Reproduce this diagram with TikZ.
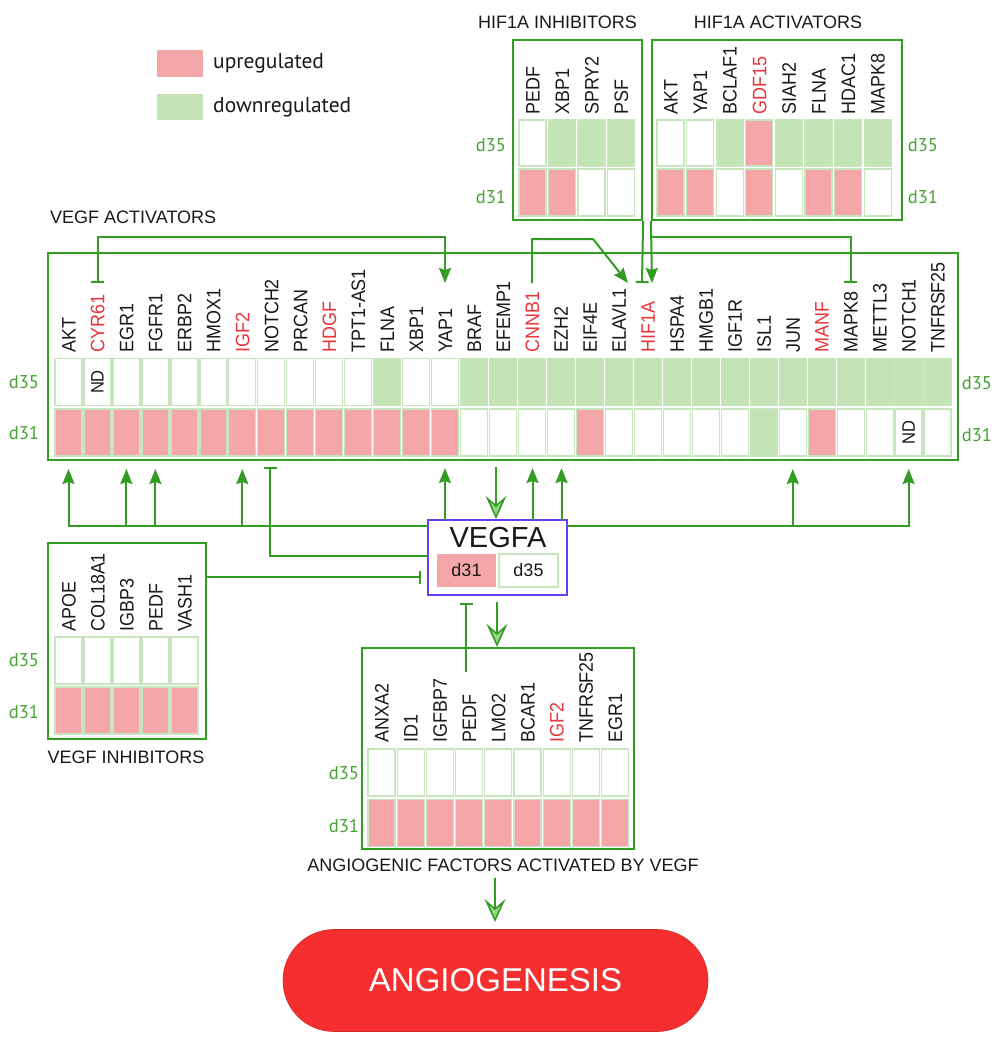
\documentclass[tikz,border=0pt]{standalone}
\usepackage{fontspec}
\setmainfont{Liberation Sans}
\newfontfamily\ptsans{PT Sans}
\newfontfamily\genefont[FakeStretch=0.92]{Liberation Sans}
\usetikzlibrary{arrows.meta,shapes.misc}
\definecolor{lg}{RGB}{52,155,36}
\definecolor{dg}{RGB}{70,160,50}
\definecolor{cellb}{RGB}{200,230,190}
\definecolor{cR}{RGB}{244,166,168}
\definecolor{cG}{RGB}{197,228,181}
\definecolor{cW}{RGB}{255,255,255}
\definecolor{gred}{RGB}{232,52,58}
\definecolor{angred}{RGB}{245,47,47}
\definecolor{vblue}{RGB}{105,60,240}
\definecolor{afill}{RGB}{150,215,135}
\definecolor{tx}{RGB}{25,25,25}
\tikzset{
  tact/.tip={Stealth[length=15pt,width=12pt,inset=2pt]},
  tbar/.tip={Bar[width=13pt]},
  tbig/.tip={Stealth[length=23pt,width=21pt,inset=9pt,fill=afill]},
}
\begin{document}
\begin{tikzpicture}[x=1pt,y=-1pt,
  genelab/.style={rotate=90, anchor=west, inner sep=0pt, font=\genefont\fontsize{19.5}{19.5}\selectfont, text height=14pt, text depth=0pt},
  cell/.style={draw=cellb, line width=1.3pt, minimum width=27pt, minimum height=47pt, inner sep=0pt},
  panel/.style={draw=lg, line width=2.2pt, inner sep=0pt},
  dlab/.style={text=dg, font=\ptsans\fontsize{18.5}{18.5}\selectfont, inner sep=0pt},
  conn/.style={draw=lg, line width=2pt},
  act/.style={conn, -tact},
  inh/.style={conn, -tbar},
  big/.style={conn, line width=1.6pt, -tbig},
  title/.style={font=\fontsize{18}{18}\selectfont, inner sep=0pt, text=tx},
  nd/.style={rotate=90, inner sep=0pt, font=\genefont\fontsize{18}{18}\selectfont, text=tx},
]
\useasboundingbox (0,0) rectangle (996,1039);

% ---------- legend ----------
\node[fill=cR, minimum width=46pt, minimum height=27pt, inner sep=0pt] (legup) at (180,63.5) {};
\node[fill=cG, minimum width=46pt, minimum height=26pt, inner sep=0pt] (legdn) at (180,107) {};
\node[anchor=west, inner sep=0pt, font=\ptsans\fontsize{21.5}{21.5}\selectfont, text=tx] (legupt) at (213,63) {upregulated};
\node[anchor=west, inner sep=0pt, font=\ptsans\fontsize{21.5}{21.5}\selectfont, text=tx] (legdnt) at (213,107) {downregulated};

% ---------- HIF1A inhibitors ----------
\node[title] (hinhT) at (557.5,22) {HIF1A INHIBITORS};
\node[panel, minimum width=129pt, minimum height=180pt] (hinh) at (577.5,130) {};
\foreach \lab/\lc/\a/\b [count=\i from 0] in {PEDF/tx/cW/cR, XBP1/tx/cG/cR, SPRY2/tx/cG/cW, PSF/tx/cG/cW}{
  \pgfmathsetmacro\xc{532.5+29.5*\i}
  \node[genelab, text=\lc] (hi-l\i) at (\xc,115) {\lab};
  \node[cell, fill=\a, minimum height=46pt] (hi-a\i) at (\xc,143) {};
  \node[cell, fill=\b] (hi-b\i) at (\xc,192.5) {};
}
\node[dlab] (hd35L) at (491,145) {d35};
\node[dlab] (hd31L) at (491,197) {d31};

% ---------- HIF1A activators ----------
\node[title] (hactT) at (778,22) {HIF1A ACTIVATORS};
\node[panel, minimum width=250pt, minimum height=180pt] (hact) at (777,130) {};
\foreach \lab/\lc/\a/\b [count=\i from 0] in {AKT/tx/cW/cR, YAP1/tx/cW/cR, BCLAF1/tx/cG/cW, GDF15/gred/cR/cR, SIAH2/tx/cG/cW, FLNA/tx/cG/cR, HDAC1/tx/cG/cR, MAPK8/tx/cG/cW}{
  \pgfmathsetmacro\xc{670.5+29.6*\i}
  \node[genelab, text=\lc] (ha-l\i) at (\xc,115) {\lab};
  \node[cell, fill=\a, minimum height=46pt] (ha-a\i) at (\xc,143) {};
  \node[cell, fill=\b] (ha-b\i) at (\xc,192.5) {};
}
\node[dlab] (hd35R) at (923,145) {d35};
\node[dlab] (hd31R) at (923,197) {d31};

% ---------- VEGF activators (main) ----------
\node[title, anchor=west] (vactT) at (50,217) {VEGF ACTIVATORS};
\node[panel, minimum width=910pt, minimum height=207pt] (main) at (503,356.5) {};
\foreach \lab/\lc/\a/\b [count=\i from 0] in {AKT/tx/cW/cR, CYR61/gred/cW/cR, EGR1/tx/cW/cR, FGFR1/tx/cW/cR, ERBP2/tx/cW/cR, HMOX1/tx/cW/cR, IGF2/gred/cW/cR, NOTCH2/tx/cW/cR, PRCAN/tx/cW/cR, HDGF/gred/cW/cR, TPT1-AS1/tx/cW/cR, FLNA/tx/cG/cR, XBP1/tx/cW/cR, YAP1/tx/cW/cR, BRAF/tx/cG/cW, EFEMP1/tx/cG/cW, CNNB1/gred/cG/cW, EZH2/tx/cG/cW, EIF4E/tx/cG/cR, ELAVL1/tx/cG/cW, HIF1A/gred/cG/cW, HSPA4/tx/cG/cW, HMGB1/tx/cG/cW, IGF1R/tx/cG/cW, ISL1/tx/cG/cG, JUN/tx/cG/cW, MANF/gred/cG/cR, MAPK8/tx/cG/cW, METTL3/tx/cG/cW, NOTCH1/tx/cG/cW, TNFRSF25/tx/cG/cW}{
  \pgfmathsetmacro\xc{68.5+28.97*\i}
  \node[genelab, text=\lc] (m-l\i) at (\xc,353) {\lab};
  \node[cell, fill=\a] (m-a\i) at (\xc,382) {};
  \node[cell, fill=\b] (m-b\i) at (\xc,432.5) {};
}
\node[nd] (nd1) at (m-a1) {ND};
\node[nd] (nd2) at (m-b29) {ND};
\node[dlab] (md35L) at (24,382) {d35};
\node[dlab] (md31L) at (24,433) {d31};
\node[dlab] (md35R) at (977,383) {d35};
\node[dlab] (md31R) at (977,435) {d31};

% ---------- VEGFA ----------
\node[draw=vblue, line width=2.2pt, minimum width=139pt, minimum height=75pt, inner sep=0pt, fill=white] (vegfa) at (497.5,557.5) {};
\node[inner sep=0pt, font=\fontsize{29}{29}\selectfont, text=tx] (vegfaT) at (498,538) {VEGFA};
\node[fill=cR, minimum width=59pt, minimum height=33pt, inner sep=0pt, font=\fontsize{18}{18}\selectfont, text=tx] (v31) at (466.5,570.5) {d31};
\node[draw=cellb, line width=1.3pt, minimum width=59pt, minimum height=33pt, inner sep=0pt, font=\fontsize{18}{18}\selectfont, text=tx] (v35) at (528.5,570.5) {d35};

% ---------- VEGF inhibitors ----------
\node[panel, minimum width=158pt, minimum height=196pt] (vinh) at (127,641) {};
\foreach \lab [count=\i from 0] in {APOE, COL18A1, IGBP3, PEDF, VASH1}{
  \pgfmathsetmacro\xc{68.5+29*\i}
  \node[genelab, text=tx] (vi-l\i) at (\xc,632) {\lab};
  \node[cell, fill=cW] (vi-a\i) at (\xc,660.5) {};
  \node[cell, fill=cR] (vi-b\i) at (\xc,710.5) {};
}
\node[dlab] (vd35) at (24,660) {d35};
\node[dlab] (vd31) at (24,712) {d31};
\node[title] (vinhT) at (126,757) {VEGF INHIBITORS};

% ---------- Angiogenic factors ----------
\node[panel, minimum width=272pt, minimum height=201pt] (angf) at (498,748.5) {};
\foreach \lab/\lc [count=\i from 0] in {ANXA2/tx, ID1/tx, IGFBP7/tx, PEDF/tx, LMO2/tx, BCAR1/tx, IGF2/gred, TNFRSF25/tx, EGR1/tx}{
  \pgfmathsetmacro\xc{381.5+29.2*\i}
  \node[genelab, text=\lc] (af-l\i) at (\xc,743) {\lab};
  \node[cell, fill=cW] (af-a\i) at (\xc,772.5) {};
  \node[cell, fill=cR] (af-b\i) at (\xc,823) {};
}
\node[dlab] (ad35) at (344,773) {d35};
\node[dlab] (ad31) at (344,826) {d31};
\node[title] (angfT) at (503,865) {ANGIOGENIC FACTORS ACTIVATED BY VEGF};

% ---------- Angiogenesis ----------
\node[rounded rectangle, fill=angred, draw=angred!85!black, line width=0.6pt, minimum width=425pt, minimum height=102pt, inner sep=0pt, text=white, font=\fontsize{33}{33}\selectfont] (angio) at (495.5,980.5) {ANGIOGENESIS};

% ---------- connector coordinates ----------
\coordinate (cyrE) at (97.5,283);
\coordinate (cyrC) at (97.5,237);
\coordinate (yapC) at (445,237);
\coordinate (yapE) at (445,283);
\coordinate (cnbE) at (532,283);
\coordinate (cnbC1) at (532,239);
\coordinate (cnbC2) at (593,239);
\coordinate (hifE1) at (628,283);
\coordinate (hifE2) at (642,283);
\coordinate (hifE3) at (652,283);
\coordinate (hifJ) at (652,237);
\coordinate (mapC) at (850.7,237);
\coordinate (mapE) at (850.7,283);

% top connectors
\draw[conn, tbar-tact] (cyrE) -- (cyrC) -- (yapC) -- (yapE);
\draw[act] (cnbE) -- (cnbC1) -- (cnbC2) -- (hifE1);
\draw[inh] (hinh.south east) -- (hifE2);
\draw[act] (hact.south west) -- (hifE3);
\draw[inh] (hifJ) -- (mapC) -- (mapE);

% bottom: VEGFA to activators
\coordinate (vL) at (428,526);
\coordinate (vR) at (567,526);
\draw[act] (vL) -- (68.5,526) -- (68.5,469);
\foreach \xx in {126.4,155.4,242.3}{
  \draw[act] (\xx,526) -- (\xx,469);
}
\draw[act] (vR) -- (908.6,526) -- (908.6,469);
\draw[act] (792.8,526) -- (792.8,469);
\draw[act] (445,520) -- (445,468);
\draw[act] (532.5,520) -- (532.5,468);
\draw[act] (561.5,520) -- (561.5,468);
\coordinate (n2) at (428,556);
\draw[inh] (n2) -- (270,556) -- (270,467);
\draw[big] (496,467) -- (vegfa.north -| 496,0);

% VEGF inhibitors
\coordinate (viE) at (421,577);
\draw[inh] (vinh.east |- viE) -- (viE);

% VEGFA to angiogenic factors
\coordinate (pedfT) at (466,672);
\draw[inh] (pedfT) -- (466,603);
\draw[big] (497,602) -- (angf.north -| 497,0);

% to angiogenesis
\coordinate (angA) at (495,878);
\draw[big] (angA) -- (495,922);
\end{tikzpicture}
\end{document}
